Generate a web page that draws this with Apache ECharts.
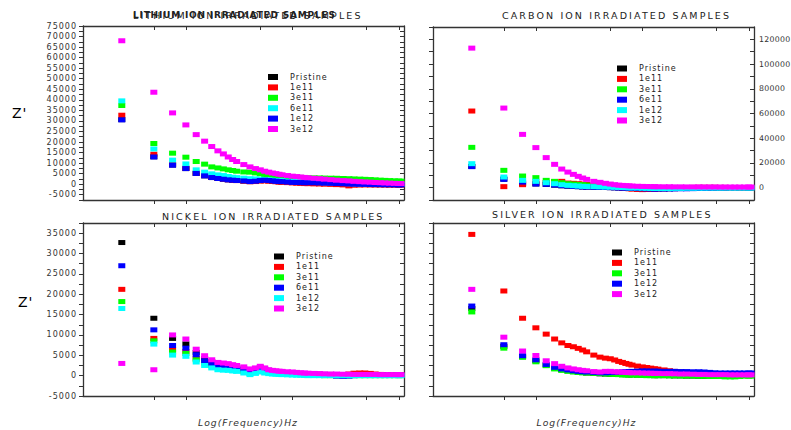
<!DOCTYPE html>
<html>
<head>
<meta charset="utf-8">
<script src="https://cdn.jsdelivr.net/npm/echarts@6/dist/echarts.min.js"></script>
<style>
html,body{margin:0;padding:0;background:#fff;}
#chart{width:791px;height:430px;}
#chart text{letter-spacing:1px;}
#chart text[style*="9.5px"]{letter-spacing:2.1px;}
#chart text[style*=" 9px"], #chart text[style*=":9px"]{letter-spacing:0.8px;}
#chart text[style*="7.8px"]{letter-spacing:0.3px;}
</style>
</head>
<body>
<div id="chart"></div>
<script>
// Frequency (Hz)
const freq = [25,50,75,100,125,150,175,200,225,250,275,300,350,400,450,500,550,600,650,700,750,800,900,1000,1100,1200,1300,1400,1600,1800,2000,2300,2600,3000,3400,3800,4300,4800,5400,6000,6700,7400,8200,9100,10000,10500];

// LITHIUM ION
const liPristine = [30600,13000,9100,7400,5100,3950,3150,2700, 2400,2100,1900,1750, 1500,1250,1350,1650, 1800,1650,1500,1350, 1200,1100,950,800, 750,700,650,600, 550,500,400,300, 200,100,0,-50, -100,-150,-200,-200, -250,-250,-300,-300, -300,-300];
const li1e11 = [32700,14200,9500,7600,5300,4100,3300,2800, 2400,2100,1900,1700, 1450,1150,1250,1500, 1600,1450,1300,1150, 1000,900,750,600, 500,400,300,250, 150,100,0,-100, -200,-350,-800,-500, -400,-350,-350,-350, -350,-350,-400,-400, -400,-400];
const li3e11 = [37300,19300,14700,12800,10750,9500,8200,7700, 7250,6800,6500,6150, 5800,5700,5350,4900, 4600,4400,4250,4100, 3950,3800,3650,3450, 3300,3200,3100,3050, 3000,2950,2900,2850, 2800,2700,2600,2500, 2400,2300,2200,2050, 1900,1800,1700,1600, 1500,1450];
const li6e11 = [39500,16700,11400,9600,6800,5700,4900,4400, 4100,3650,3300,3100, 2850,2600,2500,2350, 2200,2050,1900,1800, 1700,1600,1450,1300, 1200,1100,1000,950, 850,750,650,550, 450,350,250,150, 100,50,0,0, -50,-50,-100,-100, -150,-150];
const li1e12 = [30500,12900,9000,7400,5100,3950,3150,2700, 2350,2050,1900,1750, 1550,1250,1400,1750, 1900,1750,1550,1400, 1250,1200,1000,850, 800,750,700,700, 650,600,500,400, 300,200,100,0, -50,-100,-150,-200, -200,-250,-250,-300, -300,-300];
const li3e12 = [68000,43600,33800,28100,23500,20400,17850,15800, 14350,12900,11700,10750, 9300,8200,7400,6800, 6150,5700,5300,5000, 4700,4450,4100,3800, 3600,3400,3200,3050, 2800,2600,2400,2150, 1900,1700,1550,1350, 1200,1050,950,800, 700,600,500,400, 330,300];

// CARBON ION
const caPristine = [17200,6900,3200,3000,2600,2000,1500,1200, 1000,800,600,500, 300,200,100,0, -100,-200,-300,-400, -500,-600,-800,-900, -1000,-1000,-1000,-1000, -1000,-900,-800,-700, -600,-500,-400,-300, -200,-200,-100,-100, 0,0,0,0, 0,0];
const ca1e11 = [62000,800,2400,3800,4200,4850,5100,3700, 3500,3200,2900,2600, 2200,1800,1400,1000, 600,200,-200,-600, -900,-1200,-1500,-1600, -1500,-1400,-1200,-1000, -800,-600,-400,-200, 0,200,300,300, 300,300,200,200, 100,100,0,0, 0,0];
const ca3e11 = [32600,14000,9400,8100,5900,5100,4000,3200, 2900,2650,2400,2100, 1850,1600,1400,1200, 1000,900,800,700, 600,500,400,300, 200,150,100,50, 0,0,-50,-100, -100,-100,-100,-100, -100,-100,-100,-100, -100,-100,-100,-100, -100,-100];
const ca6e11 = [17000,6700,4500,2900,2700,2100,1600,1300, 1000,800,600,500, 300,200,100,0, -100,-200,-300,-400, -500,-600,-800,-900, -1000,-1000,-1100,-1100, -1100,-1000,-1000,-900, -900,-800,-700,-600, -500,-400,-300,-300, -200,-200,-200,-200, -200,-200];
const ca1e12 = [19400,8600,5900,5100,4000,3200,2400,1850, 1600,1300,1050,900, 800,600,500,400, 300,200,100,0, -100,-200,-300,-400, -500,-600,-700,-700, -700,-700,-600,-600, -500,-500,-400,-400, -300,-300,-300,-200, -200,-200,-200,-200, -200,-200];
const ca3e12 = [112900,64400,43100,32400,24300,18850,15050,12600, 10750,9150,7800,6700, 5100,4300,3500,2900, 2400,2000,1800,1600, 1450,1300,1100,1000, 900,850,800,750, 700,700,650,650, 600,600,600,550, 550,550,500,500, 500,500,500,500, 500,500];

// NICKEL ION
const niPristine = [32700,14100,9150,7800,5700,4150,3400,2900, 2600,2350,2150,1950, 1600,1200,1500,1900, 1600,1300,1100,1000, 900,850,750,650, 600,550,500,450, 400,350,300,300, 250,250,200,200, 200,200,150,150, 150,150,100,100, 100,100];
const ni1e11 = [21200,9150,6350,5950,4300,3400,2700,2200, 2000,1850,1700,1600, 1250,850,1150,1550, 1250,1000,850,750, 650,600,550,450, 400,350,300,300, 250,200,200,200, 200,250,400,600, 650,650,550,400, 300,250,200,200, 200,200];
const ni3e11 = [18200,8550,5800,5450,3900,3100,2450,2000, 1800,1650,1500,1400, 1000,600,900,1300, 1000,800,650,550, 500,450,400,350, 300,250,200,150, 100,50,0,0, -50,-50,-50,0, 0,0,0,0, 0,0,0,0, 0,0];
const ni6e11 = [27000,11250,7400,6750,5150,3650,2950,2500, 2300,2150,2000,1900, 1500,1100,1400,1800, 1500,1200,1000,900, 800,750,650,550, 500,450,400,350, 300,250,150,50, -100,-150,-100,0, 50,100,100,100, 100,100,100,100, 100,100];
const ni1e12 = [16500,7750,5050,4750,3350,2500,1900,1450, 1350,1300,1150,1050, 650,250,550,900, 650,500,400,350, 300,250,200,150, 100,100,50,0, 0,0,0,0, 0,0,0,0, 0,0,0,0, 0,0,0,0, 0,0];
const ni3e12 = [3000,1450,10000,9000,6500,4900,3900,3250, 3100,2950,2700,2500, 2150,1650,1900,2300, 1900,1450,1300,1200, 1100,1050,950,900, 800,700,650,600, 550,500,450,400, 400,350,350,300, 300,300,300,300, 250,250,250,250, 250,250];

// SILVER ION
const agPristine = [16500,7200,4700,3650,2600,1850,1450,1200, 1000,850,750,650, 550,450,400,350, 300,300,250,250, 200,200,150,100, 100,50,0,0, 0,0,-50,-50, -100,-100,-150,-150, -150,-100,-50,0, 0,0,0,0, 0,0];
const ag1e11 = [34700,20800,14100,11750,10200,9000,8050,7400, 7100,6700,6300,5850, 5050,4550,4300,4150, 3850,3500,3250,3000, 2800,2600,2350,2150, 2000,1850,1700,1600, 1400,1200,1050,900, 750,650,550,500, 450,400,350,300, 300,250,250,200, 200,200];
const ag3e11 = [15650,6750,4500,3400,2450,1650,1300,1050, 900,800,700,650, 550,500,400,350, 300,250,200,200, 150,150,100,50, 0,0,0,0, 0,-50,-50,-100, -100,-100,-150,-150, -200,-200,-200,-300, -300,-300,-200,-100, -100,-100];
const ag1e12 = [17100,7600,4900,3900,2750,2050,1650,1400, 1200,1050,950,900, 800,700,700,750, 800,850,900,950, 1000,1050,1100,1150, 1150,1100,1100,1100, 1050,1050,1050,1000, 1000,950,950,900, 800,700,650,650, 650,650,650,650, 650,650];
const ag3e12 = [21200,9450,6050,4950,3650,2950,2300,1900, 1650,1450,1300,1200, 1000,900,1050,1050, 950,900,850,800, 750,700,700,650, 600,600,550,550, 500,500,450,400, 400,350,300,300, 250,250,250,250, 200,200,200,200, 200,200];

const BLACK = '#000000', RED = '#ff0000', GREEN = '#00ff00', BLUE = '#0000ff', CYAN = '#00ffff', MAGENTA = '#ff00ff';

const panels = [
  { series: [['Pristine', BLACK, liPristine], ['1e11', RED, li1e11], ['3e11', GREEN, li3e11], ['6e11', CYAN, li6e11], ['1e12', BLUE, li1e12], ['3e12', MAGENTA, li3e12]],
    grid: {left: 83, top: 26, width: 321, height: 174}, legend: {left: 268, top: 73},
    y: {min: -7500, max: 75000, interval: 2500, step: 5000, lo: -5000, leftLabels: true, rightLabels: false}, xName: '', xNamePad: [0, 0, 0, 0] },
  { series: [['Pristine', BLACK, caPristine], ['1e11', RED, ca1e11], ['3e11', GREEN, ca3e11], ['6e11', BLUE, ca6e11], ['1e12', CYAN, ca1e12], ['3e12', MAGENTA, ca3e12]],
    grid: {left: 433, top: 27, width: 321, height: 173}, legend: {left: 617, top: 64.5},
    y: {min: -10000, max: 130000, interval: 10000, step: 20000, lo: 0, leftLabels: false, rightLabels: true}, xName: '', xNamePad: [0, 0, 0, 0] },
  { series: [['Pristine', BLACK, niPristine], ['1e11', RED, ni1e11], ['3e11', GREEN, ni3e11], ['6e11', BLUE, ni6e11], ['1e12', CYAN, ni1e12], ['3e12', MAGENTA, ni3e12]],
    grid: {left: 83, top: 223, width: 321, height: 173}, legend: {left: 274, top: 252.5},
    y: {min: -5000, max: 37500, interval: 2500, step: 5000, lo: -5000, leftLabels: true, rightLabels: false}, xName: 'Log(Frequency)Hz', xNamePad: [0, 0, 0, 9] },
  { series: [['Pristine', BLACK, agPristine], ['1e11', RED, ag1e11], ['3e11', GREEN, ag3e11], ['1e12', BLUE, ag1e12], ['3e12', MAGENTA, ag3e12]],
    grid: {left: 433, top: 223, width: 321, height: 173}, legend: {left: 612, top: 248.5},
    y: {min: -5000, max: 37500, interval: 2500, step: 5000, lo: -5000, leftLabels: false, rightLabels: false}, xName: 'Log(Frequency)Hz', xNamePad: [0, 14, 0, 0] }
];

const AXIS_COLOR = '#333';
const FONT = 'DejaVu Sans';
const grids = [], xAxes = [], yAxes = [], legends = [], seriesList = [];

panels.forEach((p, i) => {
  grids.push(Object.assign({outerBoundsMode: 'none', containLabel: false}, p.grid));
  ['bottom', 'top'].forEach(pos => {
    const ax = {
      type: 'log', logBase: 10, gridIndex: i, position: pos, min: 10.8, max: 11200,
      axisLine: {show: true, onZero: false, lineStyle: {color: AXIS_COLOR, width: 1.3}},
      axisTick: {show: true, inside: pos === 'top', length: 4, customValues: [50, 100, 500, 1000, 5000, 10000], lineStyle: {color: AXIS_COLOR, width: 1}},
      axisLabel: {show: false}, splitLine: {show: false}, minorTick: {show: false}, minorSplitLine: {show: false}
    };
    if (pos === 'bottom' && p.xName) {
      ax.name = p.xName; ax.nameLocation = 'middle'; ax.nameGap = 22;
      ax.nameTextStyle = {fontStyle: 'italic', fontSize: 9.2, fontFamily: FONT, color: '#333', padding: p.xNamePad};
    }
    xAxes.push(ax);
  });
  ['left', 'right'].forEach(pos => {
    const showLab = pos === 'left' ? p.y.leftLabels : p.y.rightLabels;
    yAxes.push({
      type: 'value', gridIndex: i, position: pos, min: p.y.min, max: p.y.max, interval: p.y.interval,
      axisLine: {show: true, onZero: false, lineStyle: {color: AXIS_COLOR, width: 1.3}},
      axisTick: {show: true, inside: pos === 'right', length: 4, lineStyle: {color: AXIS_COLOR, width: 1}},
      axisLabel: {show: showLab, margin: pos === 'right' ? 5 : 6, fontSize: pos === 'right' ? 7.8 : 8, fontFamily: FONT, color: '#333',
        formatter: v => (v % p.y.step === 0 && v >= p.y.lo) ? String(v) : ''},
      splitLine: {show: false}
    });
  });
  legends.push({
    orient: 'vertical', left: p.legend.left, top: p.legend.top, itemWidth: 10, itemHeight: 6, itemGap: 2.4,
    icon: 'rect', selectedMode: false, padding: 0,
    textStyle: {fontSize: 8, fontFamily: FONT, color: '#222', padding: [0, 0, 0, 7]},
    data: p.series.map(s => ({name: s[0], itemStyle: {color: s[1]}}))
  });
  p.series.forEach(s => {
    seriesList.push({
      type: 'scatter', name: s[0], xAxisIndex: 2 * i, yAxisIndex: 2 * i,
      data: freq.map((f, k) => [f, s[2][k]]),
      symbol: 'rect', symbolSize: [7, 5], itemStyle: {color: s[1], opacity: 1},
      silent: true, animation: false, emphasis: {disabled: true}
    });
  });
});

function txt(x, y, text, size, extra) {
  return {type: 'text', x: x, y: y, silent: true,
    style: Object.assign({text: text, fontSize: size, fontFamily: FONT, fill: '#222', verticalAlign: 'middle', textVerticalAlign: 'middle'}, extra || {})};
}

const option = {
  backgroundColor: '#ffffff',
  animation: false,
  grid: grids, xAxis: xAxes, yAxis: yAxes, legend: legends, series: seriesList,
  graphic: [
    txt(133, 15, 'LITHIUM ION IRRADIATED SAMPLES', 9.5),
    txt(133, 15, 'LITHIUM ION IRRADIATED SAMPLES', 9, {fontWeight: 'bold'}),
    txt(502, 15, 'CARBON ION IRRADIATED SAMPLES', 9.5),
    txt(162, 216.5, 'NICKEL ION IRRADIATED SAMPLES', 9.5),
    txt(492, 214.5, 'SILVER ION IRRADIATED SAMPLES', 9.5),
    txt(12, 113, "Z'", 14, {fill: '#000'}),
    txt(18, 302, "Z'", 14, {fill: '#000'})
  ]
};

const chart = echarts.init(document.getElementById('chart'), null, {renderer: 'svg'});
chart.setOption(option);

// letter spacing of the original figure's text, applied by font size
function applySpacing() {
  document.querySelectorAll('#chart text').forEach(t => {
    const fs = parseFloat(getComputedStyle(t).fontSize);
    let ls = 1;
    if (Math.abs(fs - 9.5) < 0.01) ls = 2.1;
    else if (Math.abs(fs - 9) < 0.01) ls = 0.8;
    else if (Math.abs(fs - 7.8) < 0.01) ls = 0.3;
    t.style.letterSpacing = ls + 'px';
  });
}
applySpacing();
chart.on('finished', applySpacing);
</script>
</body>
</html>
